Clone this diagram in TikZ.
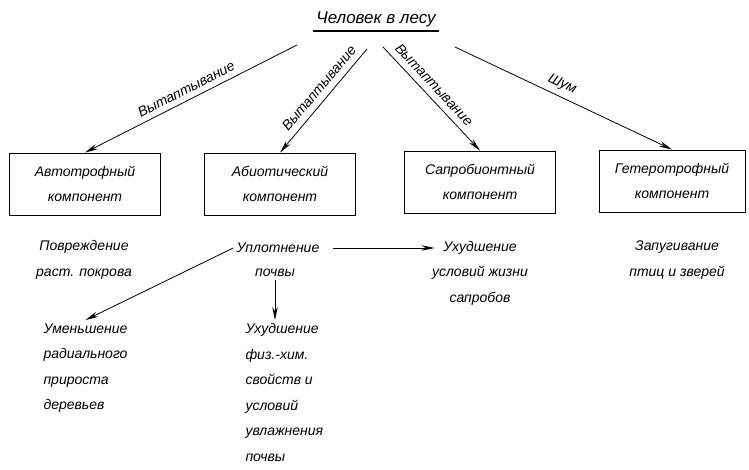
\documentclass[tikz,border=0pt]{standalone}
\usepackage{fontspec}
\setmainfont{Liberation Sans}
\usetikzlibrary{arrows.meta}
\begin{document}
\begin{tikzpicture}[x=1pt, y=-1pt, >={Stealth[length=13pt,width=5.5pt]},
  every node/.style={font=\itshape\fontsize{14}{25.5}\selectfont, align=center},
  komp/.style={draw, line width=0.9pt, minimum width=151pt, minimum height=62pt}]
  \useasboundingbox (0,0) rectangle (749,469);
  \node[font=\itshape\fontsize{17}{20}\selectfont] (man) at (376,19) {Человек в лесу};
  \draw[line width=1.6pt] ([yshift=-1pt]man.south west) -- ([yshift=-1pt]man.south east);
  % components
  \node[komp] (auto) at (85,184) {Автотрофный\\компонент};
  \node[komp] (abio) at (280,184) {Абиотический\\компонент};
  \node[komp] (sapro) at (480,182) {Сапробионтный\\компонент};
  \node[komp, minimum width=146pt] (hetero) at (672,181) {Гетеротрофный\\компонент};
  \coordinate (s1) at (297,45);
  \coordinate (s2) at (367,49);
  \coordinate (s3) at (383,47);
  \coordinate (s4) at (455,47);
  \draw[->, thick] (s1) -- node[sloped, above=2pt] {Вытаптывание} (auto.north);
  \draw[->, thick] (s2) -- node[sloped, above=3pt, pos=0.45] {Вытаптывание} (abio.north);
  \draw[->, thick] (s3) -- node[sloped, above=3pt, pos=0.44] {Вытаптывание} (sapro.north);
  \draw[->, thick] (s4) -- node[sloped, above=2pt, pos=0.47] {Шум} (hetero.north);
  % effects
  \node (povr) at (84,260) {Повреждение\\раст. покрова};
  \node (upl) at (278,248) {Уплотнение};
  \node (pochvy) at (275,273) {почвы};
  \node (uhsap) at (480,273) {Ухудшение\\условий жизни\\сапробов};
  \node (zap) at (677,260) {Запугивание\\птиц и зверей};
  \node[align=left, anchor=north west] (umen) at (40,320) {Уменьшение\\радиального\\прироста\\деревьев};
  \node[align=left, anchor=north west] (fiz) at (242,320) {Ухудшение\\физ.-хим.\\свойств и\\условий\\увлажнения\\почвы};
  \draw[->, thick] (upl.west) -- (umen.north);
  \draw[->, thick] (pochvy.south) -- (pochvy.south |- fiz.north);
  \draw[->, thick, shorten <=10pt, shorten >=-6pt] (upl.east) -- (upl.east -| uhsap.west);
\end{tikzpicture}
\end{document}
